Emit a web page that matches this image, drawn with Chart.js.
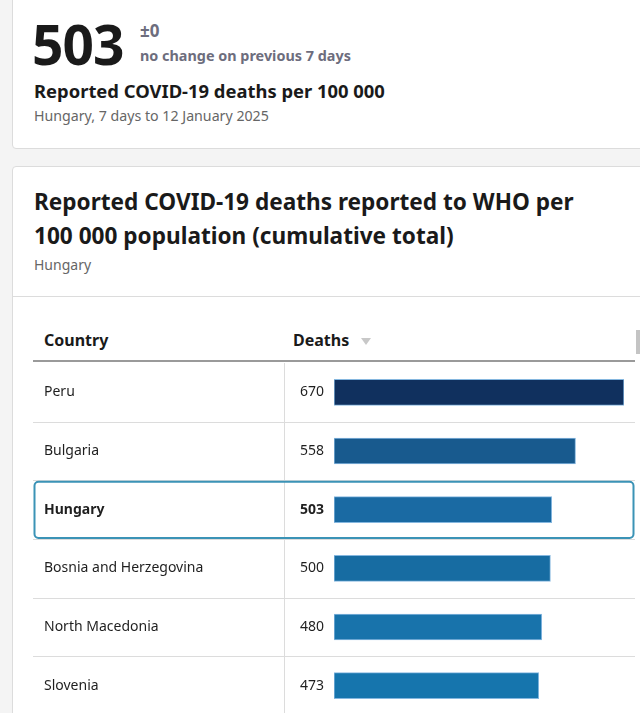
<!DOCTYPE html>
<html>
<head>
<meta charset="utf-8">
<script src="https://cdn.jsdelivr.net/npm/chart.js@4.4.1/dist/chart.umd.min.js"></script>
<style>
  html, body { margin: 0; padding: 0; }
  body { width: 640px; height: 713px; overflow: hidden; background: #f4f4f4; position: relative; font-family: "Noto Sans", sans-serif; color: #1a1a1a; }
  .card { position: absolute; background: #fff; border: 1px solid #dcdcdc; border-radius: 4px; }
  .abs { position: absolute; white-space: nowrap; }
</style>
</head>
<body>
<div class="card" style="left:12px; top:-10px; width:660px; height:157px;"></div>
<div class="abs" style="left:32px; top:9px; font-size:55px; font-weight:700; line-height:70px; letter-spacing:-1px;">503</div>
<div class="abs" style="left:140px; top:19px; font-size:17px; font-weight:700; color:#6d6d7d; line-height:24px;">±0</div>
<div class="abs" style="left:140px; top:45px; font-size:14.4px; font-weight:700; color:#6d6d7d; line-height:22px;">no change on previous 7 days</div>
<div class="abs" style="left:34px; top:79px; font-size:18.4px; font-weight:700; line-height:24px;">Reported COVID-19 deaths per 100 000</div>
<div class="abs" style="left:34px; top:106px; font-size:14.2px; color:#666; line-height:20px;">Hungary, 7 days to 12 January 2025</div>

<div class="card" style="left:12px; top:166px; width:660px; height:600px;"></div>
<div class="abs" style="left:34px; top:185px; font-size:22.6px; font-weight:700; line-height:34px;">Reported COVID-19 deaths reported to WHO per<br>100 000 population (cumulative total)</div>
<div class="abs" style="left:34px; top:255px; font-size:14px; color:#666; line-height:20px;">Hungary</div>
<div class="abs" style="left:13px; top:296px; width:640px; height:1px; background:#dcdcdc;"></div>
<div class="abs" style="left:44px; top:328px; font-size:16px; font-weight:700; line-height:24px;">Country</div>
<div class="abs" style="left:293px; top:328px; font-size:16px; font-weight:700; line-height:24px;">Deaths</div>
<div class="abs" style="left:361px; top:338px; width:0; height:0; border-left:5px solid transparent; border-right:5px solid transparent; border-top:7px solid #c8c8c8;"></div>
<div class="abs" style="left:636px; top:330px; width:4px; height:24px; background:#c4c4c4;"></div>
<div class="abs" style="left:33px; top:360px; width:602px; height:2px; background:#9a9a9a;"></div>

<div style="position:absolute; left:33px; top:363px; width:602px; height:352px;">
  <canvas id="myChart"></canvas>
</div>

<script>
const countries = ['Peru', 'Bulgaria', 'Hungary', 'Bosnia and Herzegovina', 'North Macedonia', 'Slovenia'];
const deaths = [670, 558, 503, 500, 480, 473];
const selected = 'Hungary';
const barColours = ['#10305e', '#185a8e', '#1a6aa3', '#176ca2', '#1873ab', '#1675ad'];

// row lines, country names, values and highlight box, placed on the chart's own y scale
const tableRows = {
  id: 'tableRows',
  beforeDatasetsDraw(chart) {
    const ctx = chart.ctx;
    const yScale = chart.scales.y;
    const w = chart.width;
    const step = yScale.getPixelForValue(1) - yScale.getPixelForValue(0);
    ctx.save();
    ctx.strokeStyle = '#dcdcdc';
    ctx.lineWidth = 1;
    for (let i = 1; i < countries.length; i++) {
      let y = Math.round(yScale.getPixelForValue(i) - step / 2) + 0.5;
      ctx.beginPath();
      ctx.moveTo(0, y);
      ctx.lineTo(w, y);
      ctx.stroke();
    }
    ctx.beginPath();
    ctx.moveTo(251.5, -2);
    ctx.lineTo(251.5, chart.height);
    ctx.stroke();
    ctx.restore();
  },
  afterDatasetsDraw(chart) {
    const ctx = chart.ctx;
    const yScale = chart.scales.y;
    const w = chart.width;
    const step = yScale.getPixelForValue(1) - yScale.getPixelForValue(0);
    ctx.save();
    ctx.textBaseline = 'middle';
    for (let i = 0; i < countries.length; i++) {
      let y = yScale.getPixelForValue(i);
      let bold = countries[i] === selected;
      ctx.fillStyle = '#1f1f1f';
      ctx.font = (bold ? '700 ' : '400 ') + '14px "Noto Sans"';
      ctx.textAlign = 'left';
      ctx.fillText(countries[i], 11, y);
      ctx.textAlign = 'right';
      ctx.fillText(String(deaths[i]), 291, y);
      if (bold) {
        let top = y - step / 2 + 1.5;
        ctx.strokeStyle = '#3b93b6';
        ctx.lineWidth = 2;
        ctx.beginPath();
        ctx.roundRect(1.5, top, w - 3, step - 2.5, 4);
        ctx.stroke();
      }
    }
    ctx.restore();
  }
};

new Chart(document.getElementById('myChart'), {
  type: 'bar',
  data: {
    labels: countries,
    datasets: [{
      label: 'Deaths',
      data: deaths,
      backgroundColor: barColours,
      borderColor: 'rgba(120, 175, 220, 0.9)',
      borderWidth: 1,
      borderSkipped: false,
      barThickness: 26
    }]
  },
  options: {
    indexAxis: 'y',
    responsive: true,
    maintainAspectRatio: false,
    animation: false,
    layout: { padding: { left: 301, right: 11, top: 0, bottom: 0 } },
    plugins: { legend: { display: false }, tooltip: { enabled: false } },
    scales: {
      x: { display: false, min: 0, max: 670 },
      y: { display: false }
    }
  },
  plugins: [tableRows]
});
</script>
</body>
</html>
